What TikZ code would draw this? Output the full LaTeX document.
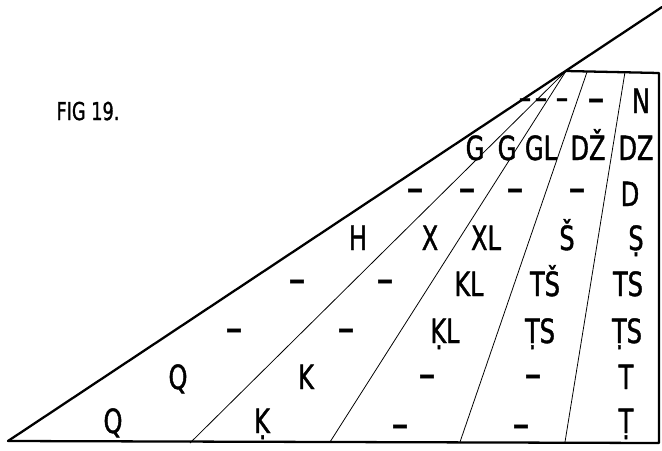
\documentclass[tikz,border=0pt]{standalone}
\usepackage{fontspec}
\setmainfont{DejaVu Sans}[FakeStretch=0.72, FakeBold=1.2]
\usetikzlibrary{positioning}

\begin{document}
\begin{tikzpicture}[x=0.02cm, y=-0.02cm,
      frame/.style={line width=1.3pt, line cap=round, line join=round},
      ray/.style={line width=0.45pt},
      sound/.style={font=\fontsize{19}{19}\selectfont, inner sep=0pt, anchor=base},
      blank/.style={font=\fontsize{26}{26}\selectfont, inner sep=0pt, anchor=base},
      tick/.style={sound},
      caption/.style={font=\fontsize{14}{14}\selectfont, inner sep=0pt, anchor=base}
    ]
      \useasboundingbox (0,0) rectangle (662,450);

      % corners
      \coordinate (tip) at (8,441);
      \coordinate (top) at (662,7);
      \coordinate (apex) at (566,71);
      \coordinate (ne) at (659,73);
      \coordinate (se) at (659,443);

      % Frame
      \draw[frame] (tip) -- (top);
      \draw[frame] (apex) -- (ne) -- (se) -- (tip);

      % Rays
      \coordinate (f1) at (190,443);
      \coordinate (f2) at (330,442);
      \coordinate (f3) at (460,442);
      \coordinate (f4) at (565,442);
      \coordinate (t3) at (587,72);
      \coordinate (t4) at (625,72);
      \draw[ray] (apex) -- (f1);
      \draw[ray] (apex) -- (f2);
      \draw[ray] (t3) -- (f3);
      \draw[ray] (t4) -- (f4);

      % Caption
      \node[caption] (fig) at (88,120) {FIG 19.};

      % Row 1
      \node[tick] (a1) at (525,109) {–};
      \node[tick] (a2) at (541,109) {–};
      \node[tick] (a3) at (562,109) {–};
      \node[blank] (a4) at (596,113) {–};
      \node[sound] (a5) at (641,113) {N};

      % Row 2
      \node[sound] (b1) at (475,160) {G};
      \node[sound] (b2) at (507,160) {G};
      \node[sound] (b3) at (541,160) {GL};
      \node[sound] (b4) at (588,160) {DŽ};
      \node[sound] (b5) at (636,160) {DZ};

      % Row 3
      \node[blank] (c1) at (415,203) {–};
      \node[blank] (c2) at (467,203) {–};
      \node[blank] (c3) at (515,203) {–};
      \node[blank] (c4) at (577,203) {–};
      \node[sound] (c5) at (630,206) {D};

      % Row 4
      \node[sound] (d1) at (358,250) {H};
      \node[sound] (d2) at (430,250) {X};
      \node[sound] (d3) at (486,250) {XL};
      \node[sound] (d4) at (567,250) {Š};
      \node[sound] (d5) at (636,250) {Ṣ};

      % Row 5
      \node[blank] (e1) at (297,294) {–};
      \node[blank] (e2) at (385,294) {–};
      \node[sound] (e3) at (469,296) {KL};
      \node[sound] (e4) at (545,296) {TŠ};
      \node[sound] (e5) at (628,296) {TS};

      % Row 6
      \node[blank] (g1) at (234,343) {–};
      \node[blank] (g2) at (346,343) {–};
      \node[sound] (g3) at (445,343) {ḲL};
      \node[sound] (g4) at (540,343) {ṬS};
      \node[sound] (g5) at (627,343) {ṬS};

      % Row 7
      \node[sound] (h1) at (178,389) {Q};
      \node[sound] (h2) at (306,389) {K};
      \node[blank] (h3) at (427,389) {–};
      \node[blank] (h4) at (533,389) {–};
      \node[sound] (h5) at (626,389) {T};

      % Row 8
      \node[sound] (k1) at (113,433) {Q};
      \node[sound] (k2) at (262,433) {Ḳ};
      \node[blank] (k3) at (400,439) {–};
      \node[blank] (k4) at (521,439) {–};
      \node[sound] (k5) at (626,433) {Ṭ};
    \end{tikzpicture}
\end{document}
